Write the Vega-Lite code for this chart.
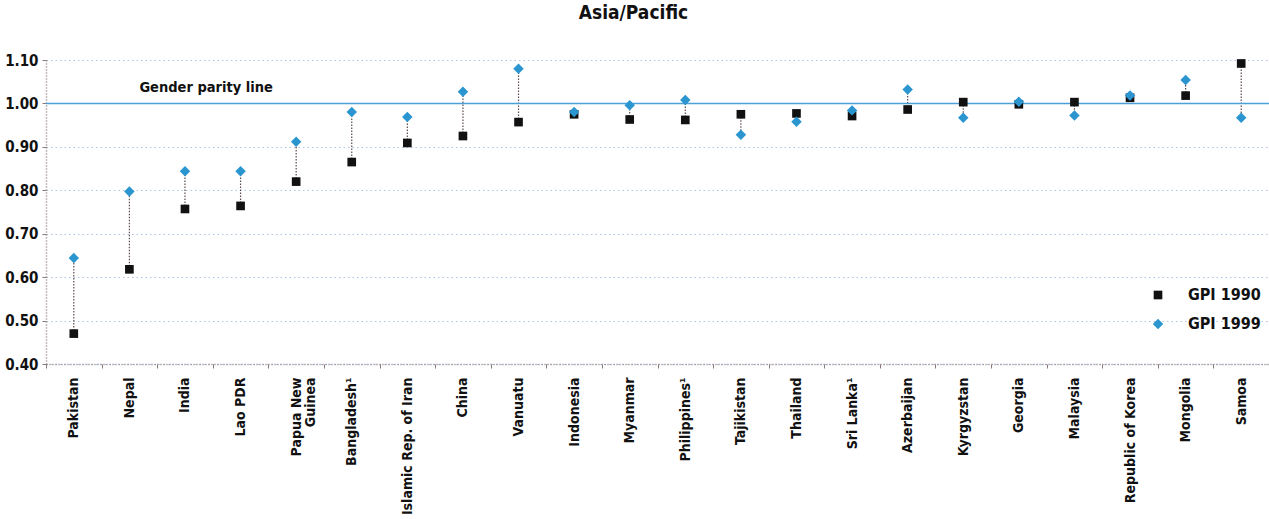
{
  "$schema": "https://vega.github.io/schema/vega-lite/v6.json",
  "width": 1223,
  "height": 304,
  "autosize": {"type": "none"},
  "padding": {"left": 46, "top": 60, "right": 0, "bottom": 155},
  "background": "white",
  "config": {
    "font": "Liberation Sans Narrow, DejaVu Sans Condensed, sans-serif",
    "view": {"stroke": null}
  },
  "title": {
    "text": "Asia/Pacific",
    "fontSize": 19,
    "fontWeight": "bold",
    "font": "Liberation Sans Narrow, DejaVu Sans Condensed, sans-serif",
    "color": "#111111",
    "offset": 30,
    "dx": -24
  },
  "data": {
    "values": [
      {"country": "Pakistan", "GPI 1990": 0.47, "GPI 1999": 0.644},
      {"country": "Nepal", "GPI 1990": 0.618, "GPI 1999": 0.797},
      {"country": "India", "GPI 1990": 0.757, "GPI 1999": 0.844},
      {"country": "Lao PDR", "GPI 1990": 0.764, "GPI 1999": 0.844},
      {"country": "Papua New Guinea", "GPI 1990": 0.82, "GPI 1999": 0.912},
      {"country": "Bangladesh¹", "GPI 1990": 0.865, "GPI 1999": 0.98},
      {"country": "Islamic Rep. of Iran", "GPI 1990": 0.909, "GPI 1999": 0.969},
      {"country": "China", "GPI 1990": 0.925, "GPI 1999": 1.027},
      {"country": "Vanuatu", "GPI 1990": 0.957, "GPI 1999": 1.08},
      {"country": "Indonesia", "GPI 1990": 0.975, "GPI 1999": 0.98},
      {"country": "Myanmar", "GPI 1990": 0.963, "GPI 1999": 0.996},
      {"country": "Philippines¹", "GPI 1990": 0.962, "GPI 1999": 1.008},
      {"country": "Tajikistan", "GPI 1990": 0.975, "GPI 1999": 0.928},
      {"country": "Thailand", "GPI 1990": 0.977, "GPI 1999": 0.958},
      {"country": "Sri Lanka¹", "GPI 1990": 0.971, "GPI 1999": 0.984},
      {"country": "Azerbaijan", "GPI 1990": 0.986, "GPI 1999": 1.032},
      {"country": "Kyrgyzstan", "GPI 1990": 1.003, "GPI 1999": 0.967},
      {"country": "Georgia", "GPI 1990": 0.998, "GPI 1999": 1.004},
      {"country": "Malaysia", "GPI 1990": 1.003, "GPI 1999": 0.972},
      {"country": "Republic of Korea", "GPI 1990": 1.013, "GPI 1999": 1.018},
      {"country": "Mongolia", "GPI 1990": 1.018, "GPI 1999": 1.054},
      {"country": "Samoa", "GPI 1990": 1.092, "GPI 1999": 0.967}
    ]
  },
  "encoding": {
    "x": {
      "field": "country",
      "type": "nominal",
      "sort": null,
      "title": null,
      "scale": {"paddingInner": 0, "paddingOuter": 0},
      "axis": {
        "labelAngle": -90,
        "labelAlign": "right",
        "labelBaseline": "middle",
        "labelPadding": 9,
        "labelFontSize": 14,
        "labelFontWeight": "bold",
        "labelColor": "#111111",
        "labelLineHeight": 14,
        "labelExpr": "datum.label == 'Papua New Guinea' ? ['Papua New', 'Guinea'] : datum.label",
        "tickBand": "extent",
        "tickSize": 4,
        "tickColor": "#8a7a7a",
        "domainColor": "#8a7a7a",
        "domainDash": [1, 2],
        "domainWidth": 1.5,
        "grid": false
      }
    }
  },
  "layer": [
    {
      "mark": {"type": "rule", "color": "#5a4a4a", "strokeDash": [1.5, 1.5], "strokeWidth": 1.2},
      "encoding": {
        "y": {
          "field": "GPI 1990",
          "type": "quantitative",
          "scale": {"domain": [0.4, 1.1], "nice": false, "zero": false},
          "axis": {
            "values": [0.4, 0.5, 0.6, 0.7, 0.8, 0.9, 1.0, 1.1],
            "format": ".2f",
            "title": null,
            "labelFontSize": 15,
            "labelFontWeight": "bold",
            "labelColor": "#111111",
            "labelPadding": 4,
            "tickSize": 4,
            "tickColor": "#8a7a7a",
            "domainColor": "#8a7a7a",
            "domainDash": [1, 2],
            "domainWidth": 1.5,
            "grid": true,
            "gridColor": "#a9c4e6",
            "gridDash": [1.5, 3],
            "gridWidth": 1.2
          }
        },
        "y2": {"field": "GPI 1999"}
      }
    },
    {
      "data": {"values": [{}]},
      "mark": {"type": "rule", "color": "#4c9fdb", "strokeWidth": 1.5},
      "encoding": {"x": null, "y": {"datum": 1, "type": "quantitative"}}
    },
    {
      "transform": [{"fold": ["GPI 1990", "GPI 1999"], "as": ["series", "value"]}],
      "mark": {"type": "point", "filled": true, "opacity": 1},
      "encoding": {
        "y": {"field": "value", "type": "quantitative"},
        "shape": {
          "field": "series",
          "type": "nominal",
          "scale": {"domain": ["GPI 1990", "GPI 1999"], "range": ["square", "diamond"]},
          "legend": null
        },
        "color": {
          "field": "series",
          "type": "nominal",
          "scale": {"domain": ["GPI 1990", "GPI 1999"], "range": ["#111111", "#2b95d0"]},
          "legend": {
            "title": null,
            "orient": "none",
            "legendX": 1104,
            "legendY": 227,
            "labelFontSize": 16,
            "labelFontWeight": "bold",
            "labelColor": "#111111",
            "rowPadding": 13,
            "symbolSize": 90,
            "labelOffset": 22
          }
        },
        "size": {
          "field": "series",
          "type": "nominal",
          "scale": {"domain": ["GPI 1990", "GPI 1999"], "range": [75, 110]},
          "legend": null
        }
      }
    },
    {
      "data": {"values": [{"label": "Gender parity line"}]},
      "mark": {"type": "text", "align": "left", "baseline": "middle", "fontSize": 14.5, "fontWeight": "bold", "color": "#111111", "dx": 10},
      "encoding": {
        "x": {"datum": "Nepal"},
        "y": {"datum": 1.035, "type": "quantitative"},
        "text": {"field": "label"}
      }
    }
  ]
}
